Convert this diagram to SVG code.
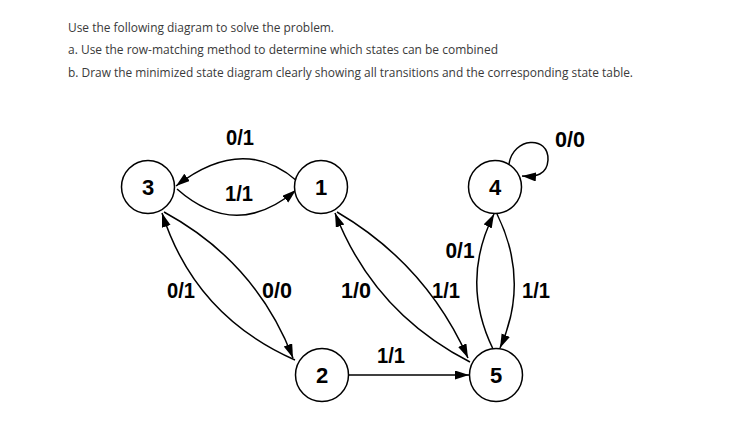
<svg xmlns="http://www.w3.org/2000/svg" width="731" height="443" viewBox="0 0 731 443">
<style>
.hdr{font-family:"Open Sans","Noto Sans",sans-serif;font-size:12.5px;fill:#3a3a3a}
.node circle{fill:#fff;stroke:#000;stroke-width:1.5}
.node text,.lbl{font-family:"Liberation Sans",Arial,sans-serif;font-weight:bold;font-size:22px;fill:#000;text-anchor:middle}
.edge{fill:none;stroke:#000;stroke-width:1.5;marker-end:url(#arr)}
</style>
<defs>
<marker id="arr" markerUnits="userSpaceOnUse" markerWidth="15" markerHeight="10" refX="14" refY="4.5" orient="auto">
<path d="M0,0 L14,4.5 L0,9 z" fill="#000"/>
</marker>
</defs>
<rect width="731" height="443" fill="#fff"/>
<g id="header">
<text class="hdr" x="68" y="32" textLength="266" lengthAdjust="spacingAndGlyphs">Use the following diagram to solve the problem.</text>
<text class="hdr" x="68" y="54" textLength="430" lengthAdjust="spacingAndGlyphs">a. Use the row-matching method to determine which states can be combined</text>
<text class="hdr" x="68" y="77" textLength="565" lengthAdjust="spacingAndGlyphs">b. Draw the minimized state diagram clearly showing all transitions and the corresponding state table.</text>
</g>
<g id="connectors">
<path class="edge" d="M297,181 Q243,134 176,186"/>
<path class="edge" d="M177,189 Q236,241 296,190"/>
<path class="edge" d="M295,360 Q195,316 162,213"/>
<path class="edge" d="M164,212 Q256,262 293,358"/>
<path class="edge" d="M470,362 Q374,313 335,213"/>
<path class="edge" d="M337,212 Q426,264 468,358"/>
<path class="edge" d="M493,349 Q460,281 494,214"/>
<path class="edge" d="M497,214 Q530,281 500,348"/>
<path class="edge" d="M349,375 L469,375"/>
<path class="edge" d="M509,164 C513,137 549,135 548,160 C547,175 536,177 522,176"/>
</g>
<g id="labels">
<text class="lbl" x="240" y="145" textLength="28" lengthAdjust="spacingAndGlyphs">0/1</text>
<text class="lbl" x="239" y="201" textLength="28" lengthAdjust="spacingAndGlyphs">1/1</text>
<text class="lbl" x="570" y="147" textLength="30" lengthAdjust="spacingAndGlyphs">0/0</text>
<text class="lbl" x="181" y="298" textLength="28" lengthAdjust="spacingAndGlyphs">0/1</text>
<text class="lbl" x="277" y="298" textLength="30" lengthAdjust="spacingAndGlyphs">0/0</text>
<text class="lbl" x="356" y="298" textLength="30" lengthAdjust="spacingAndGlyphs">1/0</text>
<text class="lbl" x="446" y="298" textLength="28" lengthAdjust="spacingAndGlyphs">1/1</text>
<text class="lbl" x="460" y="258" textLength="29" lengthAdjust="spacingAndGlyphs">0/1</text>
<text class="lbl" x="536" y="298" textLength="28" lengthAdjust="spacingAndGlyphs">1/1</text>
<text class="lbl" x="391" y="363" textLength="28" lengthAdjust="spacingAndGlyphs">1/1</text>
</g>
<g id="node3" class="node"><circle cx="148" cy="187" r="26.5"/><text x="148" y="195">3</text></g>
<g id="node1" class="node"><circle cx="321" cy="187" r="26.5"/><text x="321" y="195">1</text></g>
<g id="node4" class="node"><circle cx="495" cy="187" r="26.5"/><text x="495" y="195">4</text></g>
<g id="node2" class="node"><circle cx="322" cy="375" r="26.5"/><text x="322" y="383">2</text></g>
<g id="node5" class="node"><circle cx="496" cy="375" r="26.5"/><text x="496" y="383">5</text></g>
</svg>
